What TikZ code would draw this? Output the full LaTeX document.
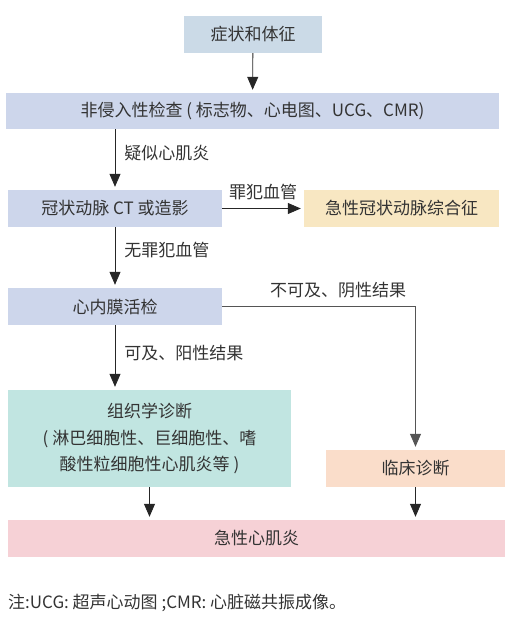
\documentclass[tikz,border=0pt]{standalone}
\usepackage{fontspec}
\setmainfont{Noto Sans CJK SC}
\usetikzlibrary{positioning, arrows.meta, calc}

\definecolor{symblue}{HTML}{CBDAE7}
\definecolor{exblue}{HTML}{CDD6EB}
\definecolor{acsyellow}{HTML}{F8E7C2}
\definecolor{histteal}{HTML}{C1E5E1}
\definecolor{clinpeach}{HTML}{FADDCA}
\definecolor{myopink}{HTML}{F6D1D6}
\definecolor{txtgrey}{HTML}{333333}
\definecolor{linegrey}{HTML}{555555}

\begin{document}
\begin{tikzpicture}[
    x=1pt, y=-1pt,
    >={Triangle[width=11pt, length=13pt]},
    every node/.style={font=\fontsize{17}{26.5}\selectfont, text=txtgrey},
    box/.style={inner sep=0pt, minimum height=37pt},
    flow/.style={->, thick, black!85, shorten >=3pt},
    lbl/.style={right, inner sep=0pt, xshift=9pt}
]
\useasboundingbox (0,0) rectangle (505,618);

% 方框
\node[box, fill=symblue, minimum width=138pt] (sym) at (253,34.5) {症状和体征};
\node[box, fill=exblue, minimum width=493pt, minimum height=36pt] (exam) at (252.5,111) {非侵入性检查 ( 标志物、心电图、UCG、CMR)};
\node[box, fill=exblue, minimum width=214pt] (ct) at (115,208.5) {冠状动脉 CT 或造影};
\node[box, fill=acsyellow, minimum width=195pt] (acs) at (401.5,208.5) {急性冠状动脉综合征};
\node[box, fill=exblue, minimum width=214pt] (biopsy) at (115,306.5) {心内膜活检};
\node[box, fill=histteal, minimum width=283pt, minimum height=97pt, align=center] (histo) at (149.5,438.5) {组织学诊断\\( 淋巴细胞性、巨细胞性、嗜\\酸性粒细胞性心肌炎等 )};
\node[box, fill=clinpeach, minimum width=179pt] (clinic) at (415.5,468.5) {临床诊断};
\node[box, fill=myopink, minimum width=497pt] (myo) at (256.5,538.5) {急性心肌炎};

% 注释
\node[anchor=west, inner sep=0pt] (note) at (8,603) {注:UCG: 超声心动图 ;CMR: 心脏磁共振成像。};

% 箭头
\draw[flow] (sym) -- (exam);
\draw[flow] (exam.south -| ct) -- node[lbl, pos=0.4] {疑似心肌炎} (ct);
\draw[flow] (ct) -- node[above=5pt] {罪犯血管} (acs);
\draw[flow] (ct) -- node[lbl, pos=0.38] {无罪犯血管} (biopsy);
\draw[flow] (biopsy) -- node[lbl, pos=0.43] {可及、阳性结果} (histo.north -| biopsy);
\draw[flow, linegrey] (biopsy) -| node[above=5pt, pos=0.3] {不可及、阴性结果} (clinic);
\draw[flow] (histo) -- (histo.south |- myo.north);
\draw[flow] (clinic) -- (clinic |- myo.north);

\end{tikzpicture}
\end{document}
